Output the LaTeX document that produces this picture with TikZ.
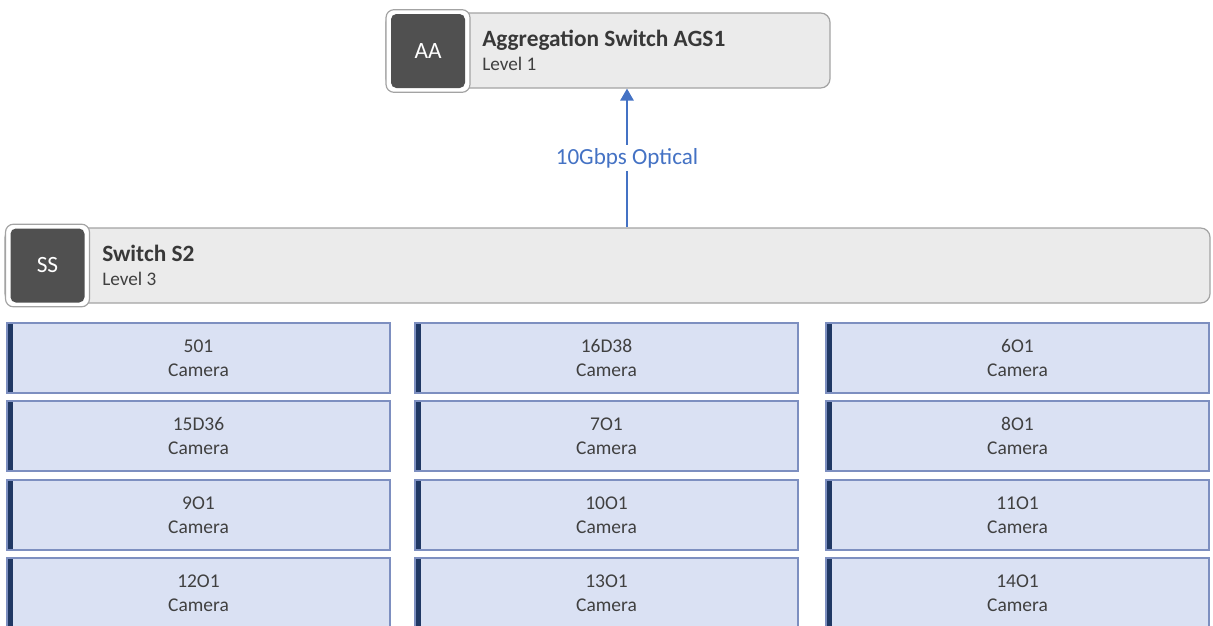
\documentclass[tikz,border=0pt]{standalone}
\usepackage{fontspec}
\setmainfont{Carlito}
\usetikzlibrary{positioning,arrows.meta}

\definecolor{hdrfill}{HTML}{EBEBEB}
\definecolor{hdrline}{HTML}{A3A3A3}
\definecolor{iconfill}{HTML}{505050}
\definecolor{txtdark}{HTML}{383838}
\definecolor{txtgray}{HTML}{404040}
\definecolor{camfill}{HTML}{DAE1F3}
\definecolor{camline}{HTML}{7D8FC0}
\definecolor{camnavy}{HTML}{203864}
\definecolor{linkblue}{HTML}{4472C4}

\begin{document}
\begin{tikzpicture}[x=0.75pt, y=-0.75pt,
	hdrbox/.style={draw=hdrline, fill=hdrfill, rounded corners=7pt, line width=0.9pt, inner sep=0pt},
	iconframe/.style={draw=hdrline, fill=white, rounded corners=6pt, line width=0.9pt, minimum width=63pt, minimum height=62pt, inner sep=0pt},
	icon/.style={fill=iconfill, rounded corners=4pt, minimum size=55.5pt, inner sep=0pt, text=white, font=\fontsize{17.5}{20}\selectfont},
	hdrtitle/.style={anchor=base west, inner sep=0pt, text=txtdark, font=\fontsize{17.5}{21}\selectfont\bfseries},
	hdrlevel/.style={anchor=base west, inner sep=0pt, text=txtgray, font=\fontsize{14.4}{17}\selectfont},
	cambox/.style={draw=camline, fill=camfill, line width=0.8pt, minimum width=287.25pt, minimum height=52.5pt, inner sep=0pt, align=center, text=txtgray, font=\fontsize{14.6}{18}\selectfont,
		path picture={\fill[camnavy] (path picture bounding box.north west) rectangle ([xshift=4.6pt]path picture bounding box.south west);}},
	link/.style={draw=linkblue, line width=1.3pt, -{Triangle[width=10pt,length=9pt]}},
	linklabel/.style={fill=white, inner sep=2pt, text=linkblue, font=\fontsize{17.3}{20}\selectfont}]
	
	\useasboundingbox (0,0) rectangle (1213,625);
	\clip (0,0) rectangle (1213,625);
	
	% Level 1 switch
	\node[hdrbox, minimum width=333pt, minimum height=56.25pt] (ags) at (608,50.5) {};
	\node[iconframe] (agsFrame) at (428,51) {};
	\node[icon] (agsIcon) at (428,51) {AA};
	\node[hdrtitle] (agsTitle) at (482,46) {Aggregation Switch AGS1};
	\node[hdrlevel] (agsLevel) at (482,70) {Level 1};
	
	% Level 3 switch
	\node[hdrbox, minimum width=903.75pt, minimum height=56.25pt] (sw) at (607.5,265.5) {};
	\node[iconframe] (swFrame) at (47.5,265.5) {};
	\node[icon] (swIcon) at (47.5,265.5) {SS};
	\node[hdrtitle] (swTitle) at (102,261) {Switch S2};
	\node[hdrlevel] (swLevel) at (102,285) {Level 3};
	
	% Uplink
	\draw[link] (sw.north -| 627,0) -- node[linklabel] (uplink) {10Gbps Optical} (ags.south -| 627,0);
	
	% Cameras
	\foreach \lbl [count=\k from 0] in {501,16D38,6O1,15D36,7O1,8O1,9O1,10O1,11O1,12O1,13O1,14O1} {
		\pgfmathtruncatemacro{\col}{mod(\k,3)}
		\pgfmathtruncatemacro{\row}{div(\k,3)}
		\pgfmathsetmacro{\cx}{{198.5,606.5,1017.5}[\col]}
		\pgfmathsetmacro{\cy}{{358,436,515,593}[\row]}
		\node[cambox] (cam\k) at (\cx,\cy) {\lbl\\Camera};
	}
\end{tikzpicture}
\end{document}
